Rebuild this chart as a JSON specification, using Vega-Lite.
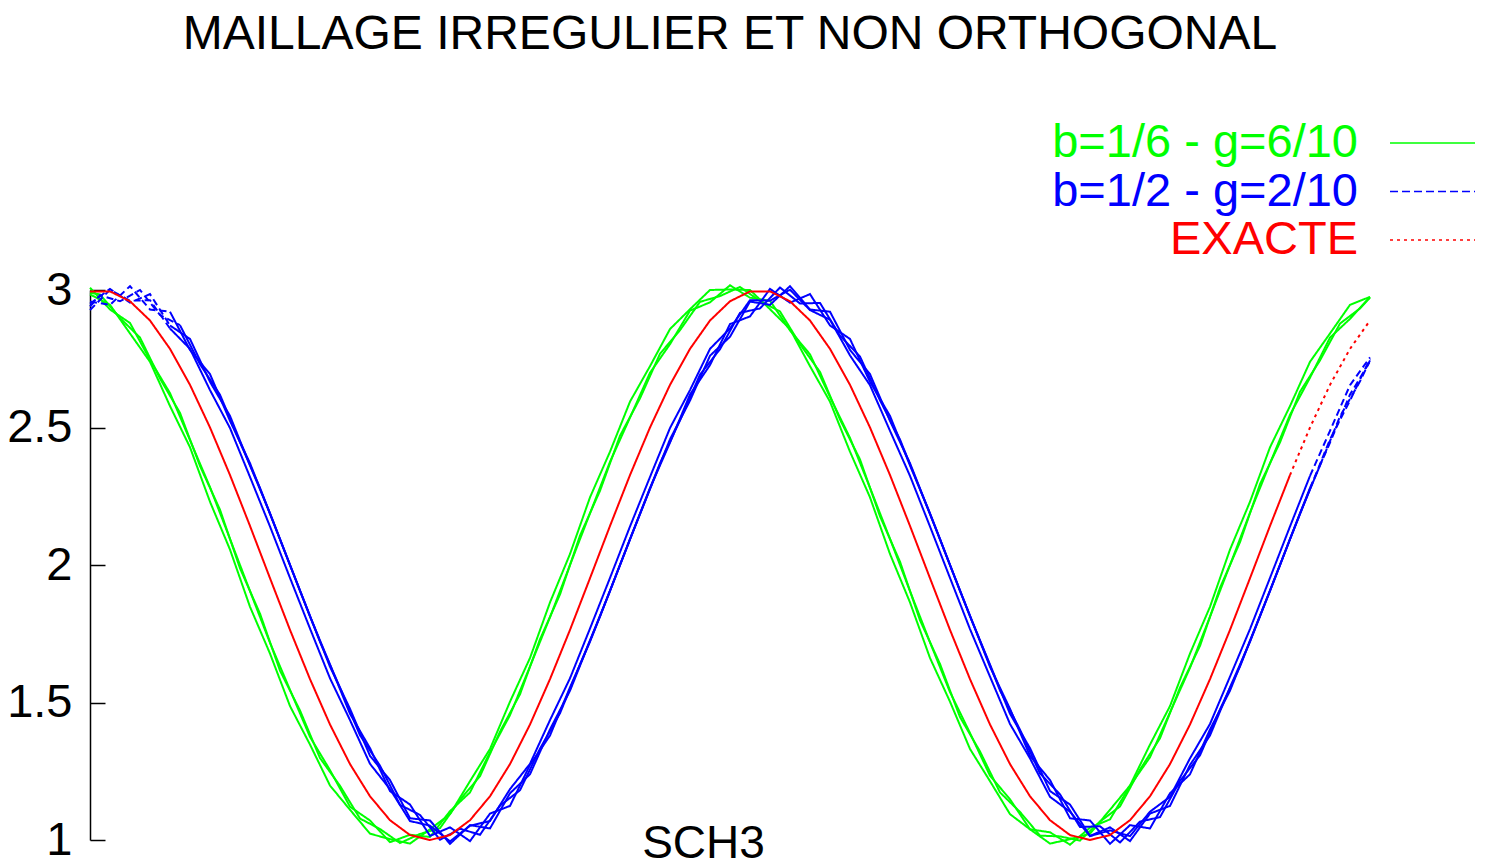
{
  "$schema": "https://vega.github.io/schema/vega-lite/v6.json",
  "width": 1280,
  "height": 550,
  "autosize": {"type": "none"},
  "padding": {"left": 90, "top": 290, "right": 115, "bottom": 26},
  "background": "white",
  "config": {"view": {"stroke": null}, "font": "Liberation Sans"},
  "title": {
    "text": "MAILLAGE IRREGULIER ET NON ORTHOGONAL",
    "font": "Liberation Sans",
    "fontSize": 48,
    "fontWeight": "normal",
    "color": "black",
    "anchor": "middle",
    "frame": "group",
    "baseline": "alphabetic",
    "offset": 22
  },
  "data": {
    "values": [
      {"s": "b=1/6 - g=6/10", "l": "g1", "d": "solid",
       "x": [0,20,40,60,80,100,120,140,160,180,200,220,240,260,280,300,320,340,360,380,400,420,440,460,480,500,520,540,560,580,600,620,640,660,680,700,720,740,760,780,800,820,840,860,880,900,920,940,960,980,1000,1020,1040,1060,1080,1100,1120,1140,1160,1180,1200,1220,1240,1260,1280],
       "y": [3.008,2.929,2.880,2.746,2.625,2.454,2.283,2.095,1.905,1.717,1.546,1.375,1.254,1.121,1.071,0.992,1.019,1.011,1.105,1.173,1.319,1.454,1.631,1.810,2.000,2.188,2.375,2.536,2.699,2.803,2.925,2.955,3.017,2.972,2.961,2.853,2.766,2.611,2.462,2.281,2.095,1.905,1.719,1.538,1.389,1.234,1.148,1.039,1.028,0.983,1.045,1.075,1.197,1.301,1.464,1.626,1.812,2.000,2.190,2.370,2.546,2.681,2.827,2.895,2.975]},
      {"s": "b=1/6 - g=6/10", "l": "g2", "d": "solid",
       "x": [0,20,40,60,80,100,120,140,160,180,200,220,240,260,280,300,320,340,360,380,400,420,440,460,480,500,520,540,560,580,600,620,640,660,680,700,720,740,760,780,800,820,840,860,880,900,920,940,960,980,1000,1020,1040,1060,1080,1100,1120,1140,1160,1180,1200,1220,1240,1260,1280],
       "y": [2.984,2.946,2.842,2.739,2.578,2.428,2.230,2.056,1.848,1.678,1.487,1.347,1.198,1.110,1.023,1.003,0.987,1.039,1.094,1.214,1.331,1.503,1.662,1.864,2.040,2.246,2.412,2.594,2.723,2.858,2.930,3.000,3.002,3.000,2.930,2.858,2.723,2.594,2.412,2.246,2.040,1.864,1.662,1.503,1.331,1.214,1.094,1.039,0.987,1.003,1.023,1.110,1.198,1.347,1.487,1.678,1.848,2.056,2.230,2.428,2.578,2.739,2.842,2.946,2.975]},
      {"s": "b=1/6 - g=6/10", "l": "g3", "d": "solid",
       "x": [0,10,30,50,70,90,110,130,150,170,190,210,230,250,270,290,310,330,350,370,390,410,430,450,470,490,510,530,550,570,590,610,630,650,670,690,710,730,750,770,790,810,830,850,870,890,910,930,950,970,990,1010,1030,1050,1070,1090,1110,1130,1150,1170,1190,1210,1230,1250,1270,1280],
       "y": [2.990,2.984,2.898,2.827,2.678,2.553,2.360,2.201,1.988,1.823,1.616,1.471,1.298,1.197,1.078,1.040,0.989,1.022,1.043,1.146,1.232,1.394,1.530,1.730,1.893,2.107,2.270,2.470,2.606,2.768,2.854,2.957,2.978,3.011,2.960,2.922,2.803,2.702,2.529,2.384,2.177,2.012,1.799,1.640,1.447,1.322,1.173,1.102,1.016,1.013,0.998,1.067,1.122,1.256,1.370,1.554,1.706,1.917,2.083,2.294,2.446,2.630,2.744,2.878,2.933,2.972]},
      {"s": "b=1/2 - g=2/10", "l": "b1a", "d": "dash",
       "x": [0,20,40,60,80],
       "y": [2.958,2.946,3.014,2.929,2.921]},
      {"s": "b=1/2 - g=2/10", "l": "b1b", "d": "solid",
       "x": [80,100,120,140,160,180,200,220,240,260,280,300,320,340,360,380,400,420,440,460,480,500,520,540,560,580,600,620,640,660,680,700,720,740,760,780,800,820,840,860,880,900,920,940,960,980,1000,1020,1040,1060,1080,1100,1120,1140,1160,1180,1200,1220],
       "y": [2.921,2.782,2.694,2.524,2.370,2.186,2.000,1.813,1.638,1.459,1.334,1.178,1.129,1.015,1.046,0.996,1.096,1.124,1.273,1.380,1.555,1.721,1.906,2.094,2.280,2.445,2.620,2.727,2.876,2.904,3.004,2.954,2.985,2.871,2.822,2.666,2.542,2.362,2.188,2.000,1.815,1.630,1.477,1.306,1.218,1.079,1.071,0.986,1.054,1.042,1.170,1.239,1.402,1.543,1.725,1.906,2.094,2.276]},
      {"s": "b=1/2 - g=2/10", "l": "b1c", "d": "dash",
       "x": [1220,1240,1260,1280],
       "y": [2.276,2.457,2.598,2.750]},
      {"s": "b=1/2 - g=2/10", "l": "b2a", "d": "dash",
       "x": [0,20,40,60,80],
       "y": [2.950,3.004,2.954,2.985,2.871]},
      {"s": "b=1/2 - g=2/10", "l": "b2b", "d": "solid",
       "x": [80,100,120,140,160,180,200,220,240,260,280,300,320,340,360,380,400,420,440,460,480,500,520,540,560,580,600,620,640,660,680,700,720,740,760,780,800,820,840,860,880,900,920,940,960,980,1000,1020,1040,1060,1080,1100,1120,1140,1160,1180,1200,1220],
       "y": [2.871,2.822,2.666,2.542,2.362,2.188,2.000,1.815,1.630,1.477,1.306,1.218,1.079,1.071,0.986,1.054,1.042,1.170,1.239,1.402,1.543,1.725,1.906,2.094,2.276,2.457,2.598,2.761,2.830,2.958,2.946,3.014,2.929,2.921,2.782,2.694,2.524,2.370,2.186,2.000,1.813,1.638,1.459,1.334,1.178,1.129,1.015,1.046,0.996,1.096,1.124,1.273,1.380,1.555,1.721,1.906,2.094,2.280]},
      {"s": "b=1/2 - g=2/10", "l": "b2c", "d": "dash",
       "x": [1220,1240,1260,1280],
       "y": [2.280,2.445,2.620,2.740]},
      {"s": "b=1/2 - g=2/10", "l": "b3a", "d": "dash",
       "x": [0,10,30,50,70,90],
       "y": [2.940,2.981,2.959,3.000,2.909,2.872]},
      {"s": "b=1/2 - g=2/10", "l": "b3b", "d": "solid",
       "x": [90,110,130,150,170,190,210,230,250,270,290,310,330,350,370,390,410,430,450,470,490,510,530,550,570,590,610,630,650,670,690,710,730,750,770,790,810,830,850,870,890,910,930,950,970,990,1010,1030,1050,1070,1090,1110,1130,1150,1170,1190,1210,1230],
       "y": [2.872,2.730,2.619,2.446,2.280,2.094,1.906,1.721,1.554,1.381,1.270,1.128,1.091,1.001,1.041,1.019,1.125,1.181,1.332,1.461,1.638,1.813,2.000,2.186,2.370,2.526,2.692,2.785,2.917,2.933,3.009,2.951,2.953,2.834,2.758,2.599,2.456,2.276,2.094,1.906,1.725,1.544,1.401,1.242,1.166,1.047,1.050,0.991,1.067,1.083,1.215,1.308,1.475,1.631,1.815,2.000,2.188,2.362]},
      {"s": "b=1/2 - g=2/10", "l": "b3c", "d": "dash",
       "x": [1230,1250,1270,1280],
       "y": [2.362,2.540,2.668,2.744]},
      {"s": "b=1/2 - g=2/10", "l": "b4a", "d": "dash",
       "x": [0,20,40,60,80],
       "y": [2.927,3.001,2.961,2.963,2.860]},
      {"s": "b=1/2 - g=2/10", "l": "b4b", "d": "solid",
       "x": [80,100,120,140,160,180,200,220,240,260,280,300,320,340,360,380,400,420,440,460,480,500,520,540,560,580,600,620,640,660,680,700,720,740,760,780,800,820,840,860,880,900,920,940,960,980,1000,1020,1040,1060,1080,1100,1120,1140,1160,1180,1200,1220],
       "y": [2.860,2.786,2.636,2.498,2.320,2.140,1.953,1.769,1.588,1.436,1.277,1.185,1.069,1.052,0.995,1.052,1.069,1.185,1.277,1.436,1.588,1.769,1.953,2.140,2.320,2.498,2.636,2.786,2.860,2.963,2.961,3.001,2.927,2.892,2.762,2.654,2.488,2.324,2.140,1.953,1.767,1.594,1.422,1.297,1.157,1.103,1.014,1.035,1.014,1.103,1.157,1.297,1.422,1.594,1.767,1.953,2.140,2.324]},
      {"s": "b=1/2 - g=2/10", "l": "b4c", "d": "dash",
       "x": [1220,1240,1260,1280],
       "y": [2.324,2.488,2.654,2.755]},
      {"s": "EXACTE", "l": "ra", "d": "solid",
       "x": [0,20,40,60,80,100,120,140,160,180,200,220,240,260,280,300,320,340,360,380,400,420,440,460,480,500,520,540,560,580,600,620,640,660,680,700,720,740,760,780,800,820,840,860,880,900,920,940,960,980,1000,1020,1040,1060,1080,1100,1120,1140,1160,1180,1200],
       "y": [2.995,2.995,2.959,2.889,2.786,2.655,2.500,2.327,2.142,1.952,1.764,1.585,1.420,1.276,1.159,1.072,1.018,1.000,1.018,1.072,1.159,1.276,1.420,1.585,1.764,1.952,2.142,2.327,2.500,2.655,2.786,2.889,2.959,2.995,2.995,2.959,2.889,2.786,2.655,2.500,2.327,2.142,1.952,1.764,1.585,1.420,1.276,1.159,1.072,1.018,1.000,1.018,1.072,1.159,1.276,1.420,1.585,1.764,1.952,2.142,2.327]},
      {"s": "EXACTE", "l": "rb", "d": "dot",
       "x": [1200,1220,1240,1260,1280],
       "y": [2.327,2.500,2.655,2.786,2.889]}
    ]
  },
  "transform": [{"flatten": ["x", "y"]}],
  "mark": {"type": "line", "strokeWidth": 2, "clip": false},
  "encoding": {
    "x": {
      "field": "x", "type": "quantitative",
      "scale": {"domain": [0, 1280], "nice": false, "zero": false},
      "axis": {
        "domain": false, "ticks": false, "labels": false, "grid": false,
        "title": "SCH3", "titleFont": "Liberation Sans", "titleFontSize": 46,
        "titleFontWeight": "normal", "titleColor": "black",
        "titleX": 613, "titleY": 17, "titleBaseline": "alphabetic", "titleAlign": "center"
      }
    },
    "y": {
      "field": "y", "type": "quantitative",
      "scale": {"domain": [1, 3], "nice": false, "zero": false},
      "axis": {
        "values": [1, 1.5, 2, 2.5, 3], "format": "~g", "title": null, "grid": false,
        "domainColor": "black", "domainWidth": 1.5,
        "tickColor": "black", "tickWidth": 1.5, "tickSize": -15,
        "labelPadding": 33, "labelFont": "Liberation Sans", "labelFontSize": 47,
        "labelColor": "black", "labelFlush": false, "labelOverlap": false, "labelBound": false
      }
    },
    "color": {
      "field": "s", "type": "nominal",
      "scale": {"domain": ["b=1/6 - g=6/10", "b=1/2 - g=2/10", "EXACTE"], "range": ["#00ff00", "#0000ff", "#ff0000"]},
      "legend": {
        "orient": "none", "legendX": 1300, "legendY": -171, "title": null,
        "padding": 0, "rowPadding": 1.5,
        "symbolType": "stroke", "symbolSize": 7225, "symbolStrokeWidth": 1.3,
        "labelFont": "Liberation Sans", "labelFontSize": 47, "labelLimit": 1000,
        "encode": {
          "labels": {"update": {
            "x": {"value": -32}, "y": {"value": 24},
            "align": {"value": "right"}, "baseline": {"value": "middle"},
            "fill": {"scale": "color", "field": "value"}
          }},
          "symbols": {"update": {
            "x": {"value": 42.5}, "y": {"value": 24},
            "strokeDash": {"signal": "datum.value === 'EXACTE' ? [3,4] : datum.value === 'b=1/2 - g=2/10' ? [8,4] : [1,0]"}
          }}
        }
      }
    },
    "strokeDash": {
      "field": "d", "type": "nominal",
      "scale": {"domain": ["solid", "dash", "dot"], "range": [[1, 0], [7, 4], [3, 4]]},
      "legend": null
    },
    "detail": {"field": "l"}
  }
}
